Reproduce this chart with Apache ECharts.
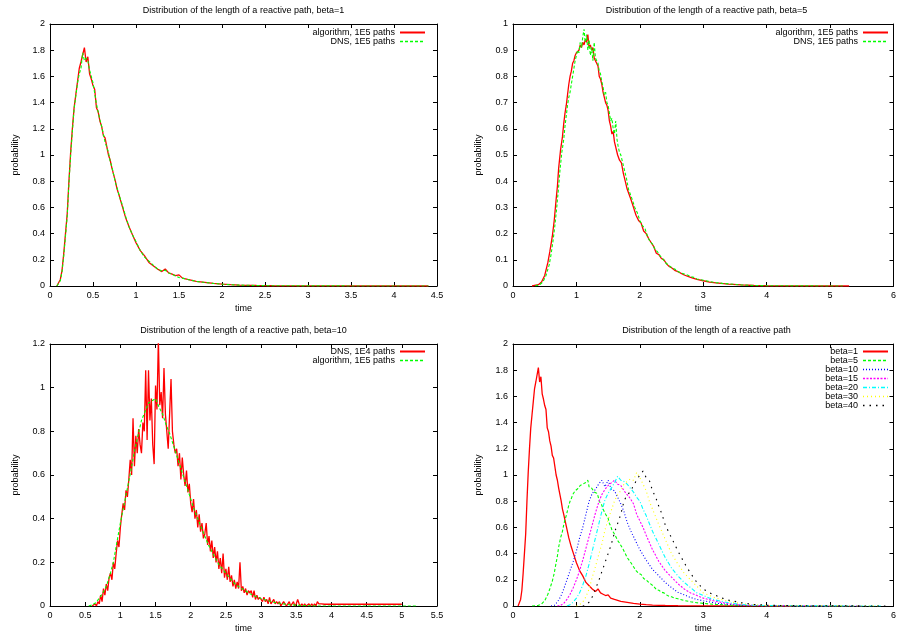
<!DOCTYPE html>
<html><head><meta charset="utf-8">
<script src="https://cdn.jsdelivr.net/npm/echarts@6/dist/echarts.min.js"></script>
<style>html,body{margin:0;padding:0;background:#fff}#c{width:899px;height:637px}</style>
</head><body><div id="c"></div><script>
// ---------------- DATA ----------------
const titles = [
  'Distribution of the length of a reactive path, beta=1',
  'Distribution of the length of a reactive path, beta=5',
  'Distribution of the length of a reactive path, beta=10',
  'Distribution of the length of a reactive path'
];
// axis ranges [min, max, interval]
const xRanges = [[0, 4.5, 0.5], [0, 6, 1], [0, 5.5, 0.5], [0, 6, 1]];
const yRanges = [[0, 2, 0.2], [0, 1, 0.1], [0, 1.2, 0.2], [0, 2, 0.2]];

// Panel 1 (beta=1): [time, probability]
const p1Algorithm = [[0.08,0],[0.10,0.01],[0.12,0.05],[0.14,0.12],[0.16,0.25],[0.18,0.40],[0.20,0.55],[0.22,0.80],[0.24,1.02],[0.26,1.20],[0.28,1.36],[0.30,1.46],[0.32,1.56],[0.34,1.66],[0.36,1.71],[0.38,1.70],[0.40,1.82],[0.42,1.71],[0.44,1.75],[0.46,1.62],[0.48,1.58],[0.50,1.53],[0.52,1.50],[0.54,1.36],[0.56,1.33],[0.58,1.26],[0.60,1.22],[0.62,1.15],[0.64,1.13],[0.66,1.12],[0.68,1.00],[0.70,0.96],[0.72,0.90],[0.74,0.85],[0.76,0.80],[0.78,0.74],[0.80,0.70],[0.84,0.61],[0.88,0.52],[0.92,0.45],[0.96,0.39],[1.00,0.33],[1.05,0.27],[1.10,0.23],[1.15,0.18],[1.20,0.155],[1.25,0.13],[1.30,0.11],[1.34,0.13],[1.38,0.10],[1.42,0.09],[1.46,0.08],[1.50,0.085],[1.54,0.06],[1.60,0.05],[1.70,0.035],[1.80,0.028],[1.90,0.02],[2.00,0.014],[2.10,0.01],[2.20,0.007],[2.40,0.004],[2.60,0.002],[3.00,0.001],[3.50,0.0005],[4.00,0.0002],[4.40,0]];
const p1Dns = [[0.08,0],[0.10,0.005],[0.12,0.04],[0.14,0.11],[0.16,0.23],[0.18,0.38],[0.20,0.53],[0.22,0.78],[0.24,1.00],[0.26,1.18],[0.28,1.35],[0.30,1.45],[0.32,1.55],[0.34,1.62],[0.36,1.66],[0.38,1.78],[0.40,1.72],[0.42,1.74],[0.44,1.72],[0.46,1.65],[0.48,1.60],[0.50,1.55],[0.52,1.47],[0.54,1.39],[0.56,1.33],[0.58,1.27],[0.60,1.22],[0.62,1.16],[0.64,1.10],[0.66,1.09],[0.68,1.02],[0.70,0.95],[0.72,0.91],[0.74,0.85],[0.76,0.79],[0.78,0.75],[0.80,0.70],[0.84,0.62],[0.88,0.53],[0.92,0.45],[0.96,0.39],[1.00,0.34],[1.05,0.27],[1.10,0.22],[1.15,0.19],[1.20,0.16],[1.25,0.13],[1.30,0.115],[1.34,0.12],[1.38,0.10],[1.42,0.09],[1.46,0.075],[1.50,0.065],[1.54,0.06],[1.60,0.05],[1.70,0.035],[1.80,0.027],[1.90,0.02],[2.00,0.014],[2.10,0.01],[2.20,0.007],[2.40,0.004],[2.60,0.002],[3.00,0.001],[3.50,0.0005],[4.00,0.0002],[4.40,0]];

// Panel 2 (beta=5)
const p2Algorithm = [[0.30,0],[0.40,0.005],[0.45,0.015],[0.50,0.04],[0.55,0.09],[0.58,0.13],[0.60,0.16],[0.62,0.19],[0.65,0.25],[0.68,0.33],[0.70,0.38],[0.72,0.45],[0.75,0.52],[0.78,0.57],[0.80,0.62],[0.82,0.66],[0.84,0.69],[0.86,0.73],[0.88,0.77],[0.90,0.80],[0.92,0.82],[0.94,0.85],[0.96,0.86],[0.98,0.88],[1.00,0.89],[1.02,0.895],[1.04,0.90],[1.06,0.92],[1.08,0.91],[1.10,0.93],[1.12,0.92],[1.14,0.94],[1.16,0.93],[1.18,0.96],[1.20,0.91],[1.22,0.92],[1.24,0.90],[1.26,0.91],[1.28,0.87],[1.30,0.86],[1.32,0.86],[1.34,0.84],[1.36,0.80],[1.38,0.79],[1.40,0.77],[1.42,0.74],[1.44,0.72],[1.46,0.70],[1.48,0.69],[1.50,0.67],[1.52,0.63],[1.54,0.61],[1.56,0.58],[1.58,0.59],[1.60,0.55],[1.62,0.53],[1.65,0.50],[1.68,0.48],[1.71,0.47],[1.74,0.43],[1.77,0.40],[1.80,0.37],[1.83,0.35],[1.86,0.33],[1.90,0.30],[1.94,0.27],[1.98,0.25],[2.02,0.24],[2.06,0.21],[2.10,0.20],[2.14,0.18],[2.18,0.165],[2.22,0.15],[2.26,0.125],[2.30,0.12],[2.34,0.105],[2.38,0.10],[2.42,0.085],[2.46,0.075],[2.50,0.07],[2.55,0.06],[2.60,0.055],[2.70,0.042],[2.80,0.033],[2.90,0.025],[3.00,0.02],[3.10,0.015],[3.20,0.012],[3.40,0.007],[3.60,0.004],[3.80,0.002],[4.00,0.001],[4.50,0.0005],[5.30,0]];
const p2Dns = [[0.35,0],[0.42,0.005],[0.47,0.015],[0.52,0.04],[0.57,0.08],[0.60,0.12],[0.63,0.17],[0.66,0.23],[0.69,0.30],[0.72,0.38],[0.74,0.44],[0.77,0.51],[0.80,0.56],[0.82,0.61],[0.84,0.65],[0.86,0.69],[0.88,0.72],[0.90,0.74],[0.92,0.77],[0.94,0.80],[0.96,0.83],[0.98,0.86],[1.00,0.88],[1.02,0.90],[1.04,0.89],[1.06,0.93],[1.08,0.91],[1.10,0.95],[1.12,0.98],[1.14,0.93],[1.16,0.96],[1.18,0.90],[1.20,0.94],[1.22,0.88],[1.24,0.91],[1.26,0.86],[1.28,0.93],[1.30,0.87],[1.32,0.87],[1.34,0.85],[1.36,0.82],[1.38,0.81],[1.40,0.78],[1.42,0.76],[1.44,0.73],[1.46,0.74],[1.48,0.70],[1.50,0.69],[1.52,0.66],[1.54,0.63],[1.56,0.64],[1.58,0.60],[1.60,0.58],[1.62,0.63],[1.64,0.56],[1.66,0.53],[1.68,0.51],[1.70,0.50],[1.73,0.47],[1.76,0.44],[1.79,0.41],[1.82,0.37],[1.85,0.35],[1.88,0.33],[1.92,0.30],[1.96,0.28],[2.00,0.25],[2.04,0.23],[2.08,0.22],[2.12,0.19],[2.16,0.17],[2.20,0.16],[2.24,0.14],[2.28,0.13],[2.32,0.115],[2.36,0.105],[2.40,0.09],[2.45,0.08],[2.50,0.07],[2.55,0.065],[2.60,0.055],[2.65,0.05],[2.70,0.046],[2.75,0.042],[2.80,0.036],[2.85,0.033],[2.90,0.027],[3.00,0.022],[3.10,0.017],[3.20,0.013],[3.30,0.01],[3.40,0.008],[3.60,0.004],[3.80,0.002],[4.00,0.001],[4.50,0.0005],[5.20,0]];

// Panel 3 (beta=10): DNS 1E4 paths, histogram bins from 0.60 with width 0.02
const p3DnsStart = 0.60, p3DnsStep = 0.02;
const p3DnsValues = [
  0.00,0.00,0.01,0.00,0.02,0.01,0.05,0.02,0.08,0.05,
  0.10,0.07,0.13,0.15,0.12,0.20,0.17,0.24,0.30,0.27,
  0.36,0.42,0.47,0.44,0.53,0.50,0.58,0.67,0.60,0.86,
  0.64,0.78,0.70,0.81,0.74,0.70,0.84,0.80,1.08,0.76,
  1.08,0.85,0.95,0.74,0.65,1.01,0.90,1.22,0.92,0.98,
  0.86,1.09,0.88,0.80,0.72,0.88,1.04,0.80,0.74,0.70,
  0.72,0.64,0.70,0.58,0.68,0.60,0.55,0.62,0.52,0.56,
  0.47,0.43,0.49,0.40,0.44,0.36,0.42,0.34,0.38,0.31,
  0.33,0.38,0.28,0.32,0.25,0.30,0.22,0.27,0.20,0.25,
  0.17,0.22,0.15,0.24,0.13,0.17,0.12,0.18,0.11,0.14,
  0.09,0.12,0.08,0.11,0.08,0.20,0.07,0.09,0.06,0.08,
  0.05,0.07,0.06,0.07,0.04,0.07,0.03,0.05,0.03,0.04,
  0.03,0.02,0.04,0.02,0.03,0.01,0.04,0.01,0.02,0.03,
  0.01,0.02,0.01,0.02,0.00,0.01,0.02,0.01,0.00,0.01,
  0.02,0.00,0.01,0.02,0.00,0.01,0.03,0.01,0.00,0.01,
  0.00,0.01,0.00,0.00,0.01,0.00,0.01,0.00,0.01,0.00,
  0.02,0.01,0.01,0.01
];
const p3DnsTail = [[3.90,0.008],[4.30,0.008],[4.70,0.008],[5.00,0.008]];
const p3Algorithm = [[0.55,0],[0.60,0.005],[0.65,0.015],[0.70,0.035],[0.75,0.06],[0.80,0.09],[0.85,0.14],[0.90,0.20],[0.95,0.29],[1.00,0.38],[1.05,0.46],[1.10,0.54],[1.15,0.62],[1.20,0.71],[1.25,0.78],[1.30,0.85],[1.35,0.89],[1.40,0.93],[1.45,0.94],[1.50,0.95],[1.55,0.91],[1.60,0.88],[1.65,0.83],[1.70,0.79],[1.75,0.74],[1.80,0.69],[1.85,0.64],[1.90,0.59],[1.95,0.54],[2.00,0.49],[2.05,0.44],[2.10,0.40],[2.15,0.36],[2.20,0.32],[2.25,0.28],[2.30,0.25],[2.35,0.22],[2.40,0.19],[2.45,0.17],[2.50,0.15],[2.55,0.13],[2.60,0.11],[2.65,0.095],[2.70,0.085],[2.75,0.075],[2.80,0.065],[2.85,0.055],[2.90,0.047],[2.95,0.04],[3.00,0.034],[3.10,0.024],[3.20,0.016],[3.30,0.01],[3.40,0.006],[3.50,0.004],[3.60,0.002],[3.70,0.001],[3.80,0],[5.20,0]];

// Panel 4: all betas (beta=1 and beta=5 are the algorithm curves above)
const p4Beta10 = [[0.60,0],[0.65,0.005],[0.70,0.03],[0.75,0.07],[0.80,0.13],[0.85,0.20],[0.90,0.27],[0.95,0.34],[1.00,0.42],[1.05,0.52],[1.10,0.60],[1.15,0.70],[1.20,0.80],[1.25,0.86],[1.30,0.89],[1.35,0.93],[1.40,0.96],[1.45,0.91],[1.50,0.96],[1.55,0.89],[1.60,0.88],[1.65,0.83],[1.70,0.78],[1.75,0.72],[1.80,0.64],[1.85,0.58],[1.90,0.53],[1.95,0.48],[2.00,0.43],[2.05,0.39],[2.10,0.35],[2.20,0.28],[2.30,0.23],[2.40,0.18],[2.50,0.14],[2.60,0.105],[2.70,0.085],[2.80,0.065],[2.90,0.05],[3.00,0.04],[3.20,0.022],[3.40,0.012],[3.60,0.006],[3.80,0.003],[4.00,0.001],[4.50,0.0005],[5.00,0]];
const p4Beta15 = [[0.70,0],[0.75,0.005],[0.80,0.02],[0.85,0.05],[0.90,0.09],[0.95,0.14],[1.00,0.20],[1.05,0.27],[1.10,0.35],[1.15,0.44],[1.20,0.53],[1.25,0.62],[1.30,0.71],[1.35,0.79],[1.40,0.85],[1.45,0.89],[1.50,0.92],[1.55,0.94],[1.60,0.96],[1.65,0.93],[1.70,0.92],[1.75,0.88],[1.80,0.85],[1.85,0.82],[1.90,0.78],[1.95,0.70],[2.00,0.65],[2.05,0.60],[2.10,0.54],[2.20,0.43],[2.30,0.34],[2.40,0.27],[2.50,0.22],[2.60,0.17],[2.70,0.13],[2.80,0.10],[2.90,0.08],[3.00,0.06],[3.20,0.035],[3.40,0.018],[3.60,0.009],[3.80,0.004],[4.00,0.002],[4.50,0.0007],[5.50,0]];
const p4Beta20 = [[0.85,0],[0.90,0.01],[0.95,0.03],[1.00,0.06],[1.05,0.10],[1.10,0.16],[1.15,0.23],[1.20,0.32],[1.25,0.42],[1.30,0.52],[1.35,0.62],[1.40,0.72],[1.45,0.81],[1.50,0.86],[1.55,0.90],[1.60,0.94],[1.65,0.99],[1.70,0.96],[1.75,0.95],[1.80,0.93],[1.85,0.90],[1.90,0.87],[1.95,0.83],[2.00,0.80],[2.05,0.74],[2.10,0.69],[2.15,0.63],[2.20,0.57],[2.30,0.47],[2.40,0.37],[2.50,0.29],[2.60,0.23],[2.70,0.18],[2.80,0.14],[2.90,0.10],[3.00,0.08],[3.10,0.06],[3.20,0.045],[3.40,0.025],[3.60,0.012],[3.80,0.006],[4.00,0.003],[4.50,0.001],[5.80,0]];
const p4Beta30 = [[1.00,0],[1.05,0.01],[1.10,0.03],[1.15,0.07],[1.20,0.13],[1.25,0.22],[1.30,0.30],[1.35,0.39],[1.40,0.47],[1.45,0.58],[1.50,0.66],[1.55,0.73],[1.60,0.80],[1.65,0.85],[1.70,0.88],[1.75,0.93],[1.80,0.95],[1.85,0.97],[1.90,0.96],[1.95,1.02],[2.00,0.98],[2.05,0.93],[2.10,0.88],[2.15,0.80],[2.20,0.74],[2.25,0.68],[2.30,0.62],[2.40,0.51],[2.50,0.40],[2.60,0.32],[2.70,0.25],[2.80,0.20],[2.90,0.15],[3.00,0.10],[3.10,0.08],[3.20,0.06],[3.40,0.035],[3.60,0.018],[3.80,0.009],[4.00,0.004],[4.50,0.001],[5.80,0]];
const p4Beta40 = [[1.10,0],[1.15,0.005],[1.20,0.03],[1.25,0.07],[1.30,0.13],[1.35,0.19],[1.40,0.26],[1.45,0.33],[1.50,0.40],[1.55,0.47],[1.60,0.56],[1.65,0.63],[1.70,0.70],[1.75,0.80],[1.80,0.85],[1.85,0.87],[1.90,0.92],[1.95,0.96],[2.00,1.00],[2.05,1.03],[2.10,0.98],[2.15,0.96],[2.20,0.88],[2.25,0.83],[2.30,0.76],[2.35,0.70],[2.40,0.62],[2.50,0.52],[2.60,0.42],[2.70,0.33],[2.80,0.25],[2.90,0.18],[3.00,0.13],[3.10,0.10],[3.20,0.08],[3.30,0.06],[3.40,0.045],[3.60,0.025],[3.80,0.012],[4.00,0.006],[4.50,0.002],[5.90,0]];

// ---------------- CHART ----------------
function binned(start, step, vals) {
  return vals.map((v, i) => [+(start + i * step).toFixed(2), v]);
}
const FONT = '"Liberation Sans", Arial, Helvetica, sans-serif';
const grids = [
  {left: 50, top: 24, width: 387, height: 262},
  {left: 513, top: 24, width: 387, height: 262},
  {left: 50, top: 344, width: 387, height: 262},
  {left: 513, top: 344, width: 387, height: 262}
];
const RED = '#ff0000', GREEN = '#00ff00', BLUE = '#0000ff', MAG = '#ff00ff', CYAN = '#00ffff', YEL = '#ffff00', BLK = '#000000';
const styles = {
  solidRed: {color: RED, type: 'solid'},
  dashGreen: {color: GREEN, type: [3, 2]},
  dotBlue: {color: BLUE, type: [1, 2]},
  dashMag: {color: MAG, type: [2, 1.5]},
  dashDotCyan: {color: CYAN, type: [4, 2, 1, 2]},
  dotYel: {color: YEL, type: [1, 3]},
  dotBlk: {color: BLK, type: [1.5, 5]}
};

const xAxis = [], yAxis = [];
grids.forEach((g, i) => {
  const [xmin, xmax, xint] = xRanges[i];
  const [ymin, ymax, yint] = yRanges[i];
  const common = {
    gridIndex: i, type: 'value', splitLine: {show: false},
    axisLine: {show: true, onZero: false, lineStyle: {color: '#000', width: 1}},
    axisTick: {show: true, inside: true, length: 4, lineStyle: {color: '#000'}},
  };
  const lbl = {show: true, color: '#000', fontSize: 9, fontFamily: FONT, margin: 5};
  xAxis.push(Object.assign({}, common, {position: 'bottom', min: xmin, max: xmax, interval: xint,
    axisLabel: lbl, name: 'time', nameLocation: 'middle', nameGap: 18,
    nameTextStyle: {color: '#000', fontSize: 9, fontFamily: FONT}}));
  xAxis.push(Object.assign({}, common, {position: 'top', min: xmin, max: xmax, interval: xint, axisLabel: {show: false}}));
  yAxis.push(Object.assign({}, common, {position: 'left', min: ymin, max: ymax, interval: yint,
    axisLabel: lbl, name: 'probability', nameLocation: 'middle', nameGap: 30,
    nameTextStyle: {color: '#000', fontSize: 9, fontFamily: FONT}}));
  yAxis.push(Object.assign({}, common, {position: 'right', min: ymin, max: ymax, interval: yint, axisLabel: {show: false}}));
});

function line(name, data, panel, st, width) {
  return {
    type: 'line', name, data, xAxisIndex: panel * 2, yAxisIndex: panel * 2,
    symbol: 'none', showSymbol: false, animation: false, silent: true, clip: true,
    lineStyle: {color: st.color, type: st.type, width: width || 1.1},
    itemStyle: {color: st.color}
  };
}
const series = [
  line('algorithm, 1E5 paths', p1Algorithm, 0, styles.solidRed, 1.3),
  line('DNS, 1E5 paths', p1Dns, 0, styles.dashGreen),
  line('algorithm, 1E5 paths', p2Algorithm, 1, styles.solidRed, 1.3),
  line('DNS, 1E5 paths', p2Dns, 1, styles.dashGreen),
  line('DNS, 1E4 paths', binned(p3DnsStart, p3DnsStep, p3DnsValues).concat(p3DnsTail), 2, styles.solidRed, 1.3),
  line('algorithm, 1E5 paths', p3Algorithm, 2, styles.dashGreen),
  line('beta=1', p1Algorithm, 3, styles.solidRed, 1.3),
  line('beta=5', p2Algorithm, 3, styles.dashGreen),
  line('beta=10', p4Beta10, 3, styles.dotBlue),
  line('beta=15', p4Beta15, 3, styles.dashMag),
  line('beta=20', p4Beta20, 3, styles.dashDotCyan),
  line('beta=30', p4Beta30, 3, styles.dotYel),
  line('beta=40', p4Beta40, 3, styles.dotBlk)
];

function legendItem(name, st, w) {
  return {name, itemStyle: {color: st.color, opacity: 0, borderWidth: 0},
    lineStyle: {color: st.color, type: st.type, width: w || 1.3, opacity: 1}};
}
function legendBox(items, right, top) {
  return {
    data: items, orient: 'vertical', align: 'right', right, top, padding: 0,
    itemWidth: 25, itemHeight: 8, itemGap: 0, selectedMode: false,
    textStyle: {color: '#000', fontSize: 9, fontFamily: FONT, lineHeight: 9}
  };
}
const legend = [
  legendBox([legendItem('algorithm, 1E5 paths', styles.solidRed, 2), legendItem('DNS, 1E5 paths', styles.dashGreen)], 473, 28),
  legendBox([legendItem('algorithm, 1E5 paths', styles.solidRed, 2), legendItem('DNS, 1E5 paths', styles.dashGreen)], 10, 28),
  legendBox([legendItem('DNS, 1E4 paths', styles.solidRed, 2), legendItem('algorithm, 1E5 paths', styles.dashGreen)], 473, 347),
  legendBox([
    legendItem('beta=1', styles.solidRed, 2), legendItem('beta=5', styles.dashGreen),
    legendItem('beta=10', styles.dotBlue), legendItem('beta=15', styles.dashMag),
    legendItem('beta=20', styles.dashDotCyan), legendItem('beta=30', styles.dotYel),
    legendItem('beta=40', styles.dotBlk)], 10, 347)
];

const title = grids.map((g, i) => ({
  text: titles[i], left: g.left + g.width / 2, top: g.top - 18, textAlign: 'center', padding: 0,
  textStyle: {color: '#000', fontSize: 9, fontWeight: 'normal', fontFamily: FONT}
}));

const chart = echarts.init(document.getElementById('c'), null, {renderer: 'canvas'});
chart.setOption({
  backgroundColor: '#ffffff', animation: false,
  title, legend, grid: grids.map(g => Object.assign({containLabel: false}, g)),
  xAxis, yAxis, series
});
</script></body></html>
